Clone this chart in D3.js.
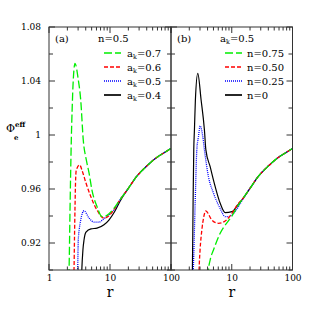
<html>
<head>
<script src="https://d3js.org/d3.v7.min.js"></script>
<style>
  body { margin: 0; background: #fff; }
  text { font-family: "DejaVu Serif", serif; fill: #000; }
</style>
</head>
<body>
<div id="chart"></div>
<script>
// panel (a): n = 0.5, different a_k
var rA07 = [2.11, 2.13, 2.21, 2.32, 2.40, 2.47, 2.67, 3.02, 3.31, 3.65, 4.09, 4.53, 5.07, 6.12, 7.39, 8.93, 11.5, 14.6, 20, 27, 40, 55, 75, 100];
var pA07 = [0.895, 0.90, 0.944, 0.996, 1.020, 1.036, 1.053, 1.041, 1.026, 0.996, 0.9815, 0.972, 0.959, 0.947, 0.9395, 0.9405, 0.9455, 0.952, 0.9605, 0.969, 0.977, 0.9825, 0.9865, 0.990];
var rA06 = [2.55, 2.57, 2.62, 2.67, 2.72, 2.80, 3.19, 3.47, 4.04, 4.88, 6.12, 7.97, 9.5, 11.5, 14.6, 20, 27, 40, 55, 75, 100];
var pA06 = [0.895, 0.90, 0.925, 0.9467, 0.9644, 0.974, 0.9778, 0.974, 0.9644, 0.954, 0.9444, 0.9385, 0.940, 0.9445, 0.952, 0.9605, 0.969, 0.977, 0.9825, 0.9865, 0.990];
var rA05 = [2.93, 2.95, 3.02, 3.15, 3.31, 3.75, 4.53, 5.47, 6.61, 7.97, 10, 12, 14.6, 20, 27, 40, 55, 75, 100];
var pA05 = [0.895, 0.90, 0.922, 0.931, 0.937, 0.9439, 0.9385, 0.9355, 0.9355, 0.938, 0.9415, 0.9455, 0.952, 0.9605, 0.969, 0.977, 0.9825, 0.9865, 0.990];
var rA04 = [3.42, 3.45, 3.6, 3.75, 4.04, 4.88, 6.12, 7.97, 9.6, 12, 14.6, 20, 27, 40, 55, 75, 100];
var pA04 = [0.895, 0.90, 0.915, 0.9222, 0.928, 0.9305, 0.931, 0.9335, 0.937, 0.9435, 0.951, 0.9605, 0.969, 0.977, 0.9825, 0.9865, 0.990];

// panel (b): a_k = 0.5, different n
var rB075 = [4.12, 4.14, 4.41, 5.0, 6.45, 8.86, 10.1, 12.2, 15, 20, 27, 40, 55, 75, 100];
var pB075 = [0.895, 0.90, 0.9074, 0.9148, 0.9272, 0.9365, 0.940, 0.9465, 0.9525, 0.9605, 0.969, 0.977, 0.9825, 0.9865, 0.990];
var rB050 = [2.88, 2.9, 3.01, 3.22, 3.45, 3.74, 4.71, 6.05, 7.8, 10.1, 12.9, 15.6, 20, 27, 40, 55, 75, 100];
var pB050 = [0.895, 0.90, 0.9148, 0.9296, 0.939, 0.9437, 0.937, 0.9346, 0.9363, 0.942, 0.9494, 0.9535, 0.9605, 0.969, 0.977, 0.9825, 0.9865, 0.990];
var rB025 = [2.31, 2.33, 2.5, 2.66, 2.83, 3.01, 3.34, 3.55, 4.14, 5.0, 6.45, 7.8, 9, 10.1, 12.5, 15, 20, 27, 40, 55, 75, 100];
var pB025 = [0.895, 0.90, 0.95, 0.989, 0.9987, 1.0067, 0.9987, 0.989, 0.969, 0.957, 0.9455, 0.9395, 0.9395, 0.941, 0.946, 0.952, 0.9605, 0.969, 0.977, 0.9825, 0.9865, 0.990];
var rB0 = [2.23, 2.25, 2.31, 2.37, 2.43, 2.52, 2.76, 3.13, 3.55, 3.75, 4.41, 5.34, 6.45, 7.8, 10.1, 12.5, 15.6, 20, 27, 40, 55, 75, 100];
var pB0 = [0.895, 0.90, 0.95, 0.989, 1.0037, 1.0259, 1.0457, 1.0259, 1.0037, 0.989, 0.9765, 0.9617, 0.9494, 0.9425, 0.9432, 0.948, 0.9535, 0.9605, 0.969, 0.977, 0.9825, 0.9865, 0.990];

var legendA = ["0.7", "0.6", "0.5", "0.4"];
var legendB = ["0.75", "0.50", "0.25", "0"];
var yTicks = [0.92, 0.96, 1, 1.04, 1.08];

var lineStyles = [
  {color: "#00ee00", dash: "8,3"},
  {color: "#ff0000", dash: "4,2"},
  {color: "#0000ff", dash: "1,1"},
  {color: "#000000", dash: "none"}
];

var W = 319, H = 319;
var plotTop = 27, plotBottom = 270;
var svg = d3.select("#chart").append("svg").attr("width", W).attr("height", H);

var y = d3.scaleLinear().domain([0.90, 1.08]).range([plotBottom, plotTop]);

var panels = [
  {x0: 49, x1: 171, id: "a", series: [[rA07, pA07], [rA06, pA06], [rA05, pA05], [rA04, pA04]], xlabels: [1, 10, 100]},
  {x0: 171, x1: 292.5, id: "b", series: [[rB075, pB075], [rB050, pB050], [rB025, pB025], [rB0, pB0]], xlabels: [10, 100]}
];

var minor = [];
[1, 10].forEach(function(d) { for (var k = 2; k <= 9; k++) minor.push(d * k); });

panels.forEach(function(p, pi) {
  var x = d3.scaleLog().domain([1, 100]).range([p.x0, p.x1]);
  var g = svg.append("g");

  g.append("clipPath").attr("id", "clip" + p.id)
    .append("rect").attr("x", p.x0).attr("y", plotTop).attr("width", p.x1 - p.x0).attr("height", plotBottom - plotTop);

  var curve = d3.line()
    .x(function(d) { return x(d[0]); })
    .y(function(d) { return y(d[1]); })
    .curve(d3.curveMonotoneX);

  // draw black first so green ends on top, like the original
  for (var i = p.series.length - 1; i >= 0; i--) {
    var s = p.series[i];
    var pts = s[0].map(function(r, j) { return [r, s[1][j]]; });
    g.append("path")
      .attr("clip-path", "url(#clip" + p.id + ")")
      .attr("d", curve(pts))
      .style("fill", "none")
      .style("stroke", lineStyles[i].color)
      .style("stroke-width", i === 3 ? 1.2 : 1.3)
      .style("stroke-dasharray", lineStyles[i].dash);
  }

  // ticks (inward, all four sides)
  var tk = g.append("g").style("stroke", "#333").style("stroke-width", 1);
  [1, 10, 100].forEach(function(v) {
    tk.append("line").attr("x1", x(v)).attr("x2", x(v)).attr("y1", plotBottom).attr("y2", plotBottom - 6);
    tk.append("line").attr("x1", x(v)).attr("x2", x(v)).attr("y1", plotTop).attr("y2", plotTop + 6);
  });
  minor.forEach(function(v) {
    tk.append("line").attr("x1", x(v)).attr("x2", x(v)).attr("y1", plotBottom).attr("y2", plotBottom - 3.5);
    tk.append("line").attr("x1", x(v)).attr("x2", x(v)).attr("y1", plotTop).attr("y2", plotTop + 3.5);
  });
  d3.range(0.90, 1.0801, 0.02).forEach(function(v, k) {
    var len = (k % 2 === 1) ? 6 : 4;
    tk.append("line").attr("x1", p.x0).attr("x2", p.x0 + len).attr("y1", y(v)).attr("y2", y(v));
    tk.append("line").attr("x1", p.x1).attr("x2", p.x1 - len).attr("y1", y(v)).attr("y2", y(v));
  });

  g.append("rect").attr("x", p.x0).attr("y", plotTop).attr("width", p.x1 - p.x0).attr("height", plotBottom - plotTop)
    .style("fill", "none").style("stroke", "#333").style("stroke-width", 1);

  // x axis labels
  var xa = d3.axisBottom(x).tickValues(p.xlabels).tickFormat(d3.format("d")).tickSize(0).tickPadding(5);
  var xg = g.append("g").attr("transform", "translate(0," + plotBottom + ")").call(xa);
  xg.select(".domain").remove();
  xg.selectAll("text").style("font-family", "DejaVu Serif").style("font-size", "9px");

  g.append("text").attr("x", x(10)).attr("y", 297).attr("text-anchor", "middle")
    .style("font-size", "14px").text("r");

  if (pi === 0) {
    var ya = d3.axisLeft(y).tickValues(yTicks).tickFormat(function(d) { return String(+d.toFixed(2)); })
      .tickSize(0).tickPadding(8);
    var yg = g.append("g").attr("transform", "translate(" + p.x0 + ",0)").call(ya);
    yg.select(".domain").remove();
    yg.selectAll("text").style("font-family", "DejaVu Serif").style("font-size", "9px");
  }

  // panel labels and legend
  g.append("text").attr("x", p.x0 + 6).attr("y", 41.5).style("font-size", "10px").text("(" + p.id + ")");
  var head = g.append("text").attr("y", 41.5).style("font-size", "10px");
  if (pi === 0) {
    head.attr("x", 98).text("n=0.5");
  } else {
    head.attr("x", 220);
    head.append("tspan").text("a");
    head.append("tspan").attr("dy", 2).style("font-size", "6.5px").text("k");
    head.append("tspan").attr("dy", -2).text("=0.5");
  }
  var legVals = pi === 0 ? legendA : legendB;
  var lineX0 = pi === 0 ? 104 : 225, textX = pi === 0 ? 127 : 247;
  var leg = g.append("g");
  legVals.forEach(function(v, i) {
    var ly = 53 + i * 14;
    leg.append("path")
      .attr("d", "M" + lineX0 + "," + ly + "H" + (lineX0 + 17))
      .style("fill", "none")
      .style("stroke", lineStyles[i].color)
      .style("stroke-width", 1.7)
      .style("stroke-dasharray", lineStyles[i].dash);
    var t = leg.append("text").attr("x", textX).attr("y", ly + 4).style("font-size", "10px");
    if (pi === 0) {
      t.append("tspan").text("a");
      t.append("tspan").attr("dy", 2).style("font-size", "6.5px").text("k");
      t.append("tspan").attr("dy", -2).text("=" + v);
    } else {
      t.text("n=" + v);
    }
  });
});

// y axis title
var yt = svg.append("text").attr("x", 6).attr("y", 132).style("font-size", "11px");
yt.append("tspan").text("\u03A6");
yt.append("tspan").attr("dy", -5).style("font-size", "7px").style("font-weight", "bold").text("eff");
svg.append("text").attr("x", 14).attr("y", 140).style("font-size", "7px").style("font-weight", "bold").text("e");
</script>
</body>
</html>
